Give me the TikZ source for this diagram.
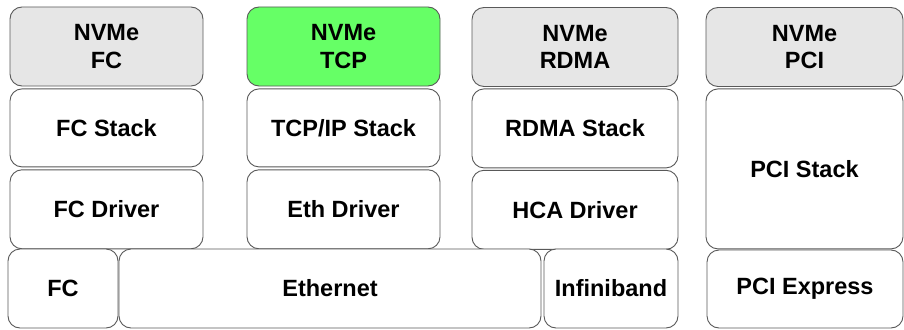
\documentclass[tikz,border=0pt]{standalone}
\usepackage{fontspec}
\setmainfont{Liberation Sans}
\usetikzlibrary{positioning}
\definecolor{protogray}{HTML}{E6E6E6}
\definecolor{protogreen}{HTML}{66FF66}

\begin{document}
\begin{tikzpicture}[x=1pt,y=-1pt,
    layer node/.style={draw=black!65,line width=0.9pt,rounded corners=12pt,fill=white,
      align=center,inner sep=0pt,minimum height=79pt,
      font=\bfseries\fontsize{23.5}{27.5}\selectfont},
    proto node/.style={layer node,fill=protogray}]
    \useasboundingbox (0,0) rectangle (904,329);

    \node[proto node,minimum width=193pt] (nvmefc) at (106.5,46.5) {NVMe\\FC};
    \node[layer node,minimum width=193pt,minimum height=78pt] (fcstack) [below=2pt of nvmefc] {FC Stack};
    \node[layer node,minimum width=193pt] (fcdriver) [below=2pt of fcstack] {FC Driver};

    \node[proto node,minimum width=193pt,fill=protogreen] (nvmetcp) at (343.5,46.5) {NVMe\\TCP};
    \node[layer node,minimum width=193pt,minimum height=78pt] (tcpstack) [below=2pt of nvmetcp] {TCP/IP Stack};
    \node[layer node,minimum width=193pt] (ethdriver) [below=2pt of tcpstack] {Eth Driver};

    \node[proto node,minimum width=206pt] (nvmerdma) at (575,47) {NVMe\\RDMA};
    \node[layer node,minimum width=206pt] (rdmastack) [below=1.5pt of nvmerdma] {RDMA Stack};
    \node[layer node,minimum width=206pt] (hcadriver) [below=1.5pt of rdmastack] {HCA Driver};

    \node[proto node,minimum width=197pt] (nvmepci) at (804.5,47) {NVMe\\PCI};
    \node[layer node,minimum width=197pt,minimum height=160pt] (pcistack) [below=1.5pt of nvmepci] {PCI Stack};

    % link layer
    \node[layer node,minimum width=110pt] (fc) at (63,288.5) {FC};
    \node[layer node,minimum width=422pt] (ethernet) at (330,288.5) {Ethernet};
    \node[layer node,minimum width=134pt] (infiniband) at (611,288.5) {Infiniband};
    \node[layer node,minimum width=196pt,minimum height=78pt] (pciexpress) at (805,289) {PCI Express};
\end{tikzpicture}
\end{document}
